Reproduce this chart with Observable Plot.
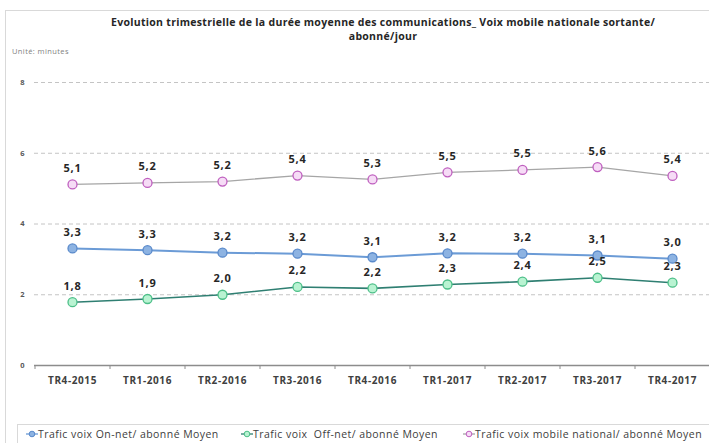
<!DOCTYPE html>
<html><head><meta charset="utf-8">
<script src="https://cdn.jsdelivr.net/npm/d3@7"></script>
<script src="https://cdn.jsdelivr.net/npm/@observablehq/plot@0.6"></script>
<style>
body{margin:0;background:#fff;font-family:"Open Sans",sans-serif;}
#wrap{position:relative;width:709px;height:443px;overflow:hidden;background:#fff;}
#frame{position:absolute;left:5px;top:10px;width:710px;height:440px;border:1px solid #d9d9d9;}
#title{position:absolute;left:57px;width:652px;top:15px;text-align:center;font-weight:bold;font-size:10.5px;letter-spacing:0.3px;line-height:14px;color:#262626;}
#unit{position:absolute;left:12px;top:46px;font-size:7.5px;letter-spacing:0.4px;color:#7f7f7f;}
#chart{position:absolute;left:0;top:70px;}
#legend{position:absolute;left:17px;top:424px;width:700px;height:30px;border:1px solid #d9d9d9;background:#fff;}
.item{position:absolute;top:2px;font-size:10.5px;letter-spacing:0.45px;line-height:14px;color:#404040;white-space:pre;display:flex;align-items:center;}
</style>
</head><body>
<div id="wrap">
  <div id="frame"></div>
  <div id="title">Evolution trimestrielle de la durée moyenne des communications_ Voix mobile nationale sortante/<br>abonné/jour</div>
  <div id="unit">Unité: minutes</div>
  <div id="chart"></div>
  <div id="legend"></div>
</div>
<script>
const categories = ["TR4-2015","TR1-2016","TR2-2016","TR3-2016","TR4-2016","TR1-2017","TR2-2017","TR3-2017","TR4-2017"];
const onNet  = [3.31,3.26,3.19,3.16,3.06,3.17,3.16,3.11,3.02];
const offNet = [1.79,1.88,2.00,2.22,2.18,2.29,2.37,2.48,2.34];
const mobile = [5.12,5.16,5.20,5.37,5.26,5.46,5.53,5.61,5.36];
const seriesNames = ["Trafic voix On-net/ abonné Moyen","Trafic voix  Off-net/ abonné Moyen","Trafic voix mobile national/ abonné Moyen"];
const yTicks = [0,2,4,6,8];
const gridTicks = [2,4,6,8];

const styles = [
  {line:"#6b9bd6", fill:"#8db3e2", stroke:"#5a8acb", width:2},
  {line:"#2f7f72", fill:"#b9f3d2", stroke:"#4cbf88", width:1.6},
  {line:"#a6a6a6", fill:"#f6dcf6", stroke:"#bf5fbf", width:1.3}
];
const seriesValues = [onNet, offNet, mobile];

const W = 709, ML = 34, MR = 0;
const step = (W - ML - MR) / categories.length;

const marks = [
  Plot.ruleY(gridTicks, {stroke:"#c4c4c4", strokeDasharray:"4,3", strokeWidth:1}),
  Plot.ruleY([0], {stroke:"#8c8c8c", strokeWidth:1.3}),
  Plot.axisX({tickSize:0, tickPadding:11, fontSize:10, fontWeight:"bold", color:"#404040", label:null, style:{letterSpacing:"0.6px"}}),
  Plot.axisX({tickSize:4, tickFormat:() => "", dx:-step/2, stroke:"#8c8c8c", label:null}),
  Plot.axisY({ticks:yTicks, tickSize:0, tickPadding:10, fontSize:7.5, fontWeight:"bold", color:"#595959", label:null})
];
const order = [2,0,1];
const rowsFor = k => categories.map((c,i) => ({cat:c, value:seriesValues[k][i], series:seriesNames[k]}));
for (const k of order) {
  const s = styles[k];
  marks.push(Plot.line(rowsFor(k), {x:"cat", y:"value", stroke:s.line, strokeWidth:s.width}));
}
for (const k of order) {
  const s = styles[k];
  marks.push(Plot.dot(rowsFor(k), {x:"cat", y:"value", r:4.5, fill:s.fill, stroke:s.stroke, strokeWidth:1.3}));
}
for (const k of order) {
  marks.push(Plot.text(rowsFor(k), {x:"cat", y:"value", text:d => d.value.toFixed(1).replace(".", ","), dy:-16, fontSize:11, fontWeight:"bold", fill:"#262626", style:{letterSpacing:"0.8px"}}));
}

const chart = Plot.plot({
  width: W,
  height: 340,
  marginLeft: ML,
  marginRight: MR,
  marginTop: 12,
  marginBottom: 45,
  style: {fontFamily:"Open Sans", background:"transparent", overflow:"visible"},
  x: {type:"point", domain:categories, padding:0.5},
  y: {domain:[0,8]},
  marks
});
chart.querySelectorAll("text").forEach(t => { if (/TR\d/.test(t.textContent) || /,/.test(t.textContent)) t.style.letterSpacing = /,/.test(t.textContent) ? "0.8px" : "0.6px"; });
document.getElementById("chart").appendChild(chart);

const legendLeft = [8, 223, 445];
const legend = document.getElementById("legend");
seriesNames.forEach((name, k) => {
  const s = styles[k];
  const div = document.createElement("div");
  div.className = "item";
  div.style.left = legendLeft[k] + "px";
  div.innerHTML = `<svg width="12" height="10"><line x1="0" y1="5" x2="12" y2="5" stroke="${s.line}" stroke-width="1.3"/><circle cx="6" cy="5" r="2.8" fill="${s.fill}" stroke="${s.stroke}" stroke-width="1"/></svg>`;
  const span = document.createElement("span");
  span.textContent = name;
  div.appendChild(span);
  legend.appendChild(div);
});
</script>
</body></html>
